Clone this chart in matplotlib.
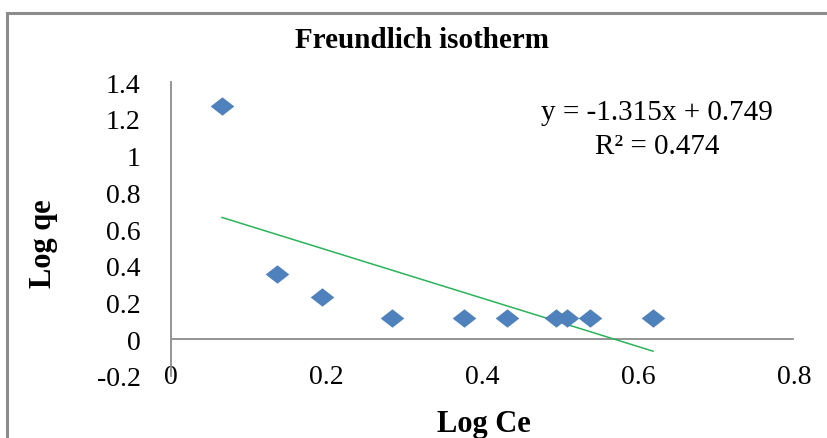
import matplotlib.pyplot as plt
from matplotlib.patches import Rectangle
import numpy as np

# data
log_ce = [0.0655, 0.136, 0.1935, 0.284, 0.376, 0.431, 0.494, 0.508, 0.538, 0.619]
log_qe = [1.267, 0.354, 0.230, 0.118, 0.118, 0.118, 0.118, 0.118, 0.118, 0.118]
slope = -1.315
intercept = 0.749
r2 = 0.474

x_ticks = [0, 0.2, 0.4, 0.6, 0.8]
y_ticks = [-0.2, 0, 0.2, 0.4, 0.6, 0.8, 1, 1.2, 1.4]
x_labels = ['0', '0.2', '0.4', '0.6', '0.8']
y_labels = ['-0.2', '0', '0.2', '0.4', '0.6', '0.8', '1', '1.2', '1.4']

plt.rcParams['font.family'] = ['Liberation Serif', 'DejaVu Serif']

fig = plt.figure(figsize=(8.27, 4.39), dpi=100)
W, H = 827, 439
ax = fig.add_axes([171 / W, 1 - 377 / H, (794 - 171) / W, (377 - 83) / H])

# chart border (cut off on right and bottom like the reference)
fig.patches.append(Rectangle((7 / W, -0.1), 1.2, 1 - 14 / H + 0.1,
                             transform=fig.transFigure, fill=False,
                             edgecolor='#8c8c8c', linewidth=2.2))

diamond = [(-1, 0), (0, 0.78), (1, 0), (0, -0.78), (-1, 0)]
ax.plot(log_ce, log_qe, linestyle='none', marker=diamond, markersize=17,
        color='#4F81BD', markeredgewidth=0, zorder=3)

xs = np.array([min(log_ce), max(log_ce)])
ax.plot(xs, slope * xs + intercept, color='#2BB35A', linewidth=1.1, zorder=2)

ax.axhline(0, color='#8c8c8c', linewidth=1.3, zorder=1)

ax.set_xlim(0, 0.8)
ax.set_ylim(-0.2, 1.4)
ax.set_xticks(x_ticks)
ax.set_xticklabels(x_labels)
ax.set_yticks(y_ticks)
ax.set_yticklabels(y_labels)
ax.tick_params(axis='both', length=0, labelsize=20)
ax.tick_params(axis='y', pad=22)
ax.tick_params(axis='x', pad=-9)

for s in ['top', 'right', 'bottom']:
    ax.spines[s].set_visible(False)
ax.spines['left'].set_color('#8c8c8c')
ax.spines['left'].set_linewidth(1.3)

fig.text(422 / W, 1 - 40 / H, 'Freundlich isotherm', ha='center', va='center',
         fontsize=21, fontweight='bold')
fig.text(484 / W, 1 - 425 / H, 'Log Ce', ha='center', va='center',
         fontsize=22, fontweight='bold')
fig.text(44 / W, 1 - 244 / H, 'Log qe', ha='center', va='center',
         fontsize=22, fontweight='bold', rotation=90)

ax.text(657 / W, 1 - 113 / H, f'y = {slope}x + {intercept}', transform=fig.transFigure,
        ha='center', va='center', fontsize=21)
ax.text(657 / W, 1 - 147 / H, f'R² = {r2}', transform=fig.transFigure,
        ha='center', va='center', fontsize=21)

fig.savefig('out.png', dpi=100)
